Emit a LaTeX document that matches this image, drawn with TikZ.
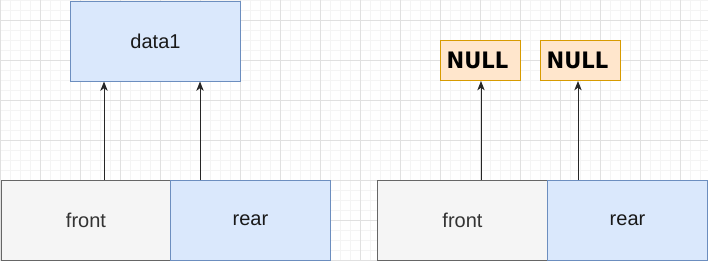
\documentclass[tikz,border=0pt]{standalone}
\usepackage{fontspec}
\setmainfont{Liberation Sans}
\newfontfamily\dvsansfam{DejaVu Sans}
\usetikzlibrary{arrows.meta}
\definecolor{gfill}{HTML}{F5F5F5}
\definecolor{gline}{HTML}{666666}
\definecolor{bfill}{HTML}{DAE8FC}
\definecolor{bline}{HTML}{6C8EBF}
\definecolor{ofill}{HTML}{FFE6CC}
\definecolor{oline}{HTML}{D79B00}
\definecolor{gtext}{HTML}{333333}
\definecolor{minorgrid}{HTML}{F4F4F4}
\definecolor{majorgrid}{HTML}{E0E0E0}
\tikzset{
  box/.style={draw, line width=0.75pt, inner sep=0pt, anchor=north west},
  graybox/.style={box, fill=gfill, draw=gline, text=gtext, font=\fontsize{15}{18}\selectfont},
  bluebox/.style={box, fill=bfill, draw=bline, text=black!90, font=\fontsize{15}{18}\selectfont},
  nullbox/.style={box, fill=ofill, draw=oline, text=black, font=\dvsansfam\bfseries\fontsize{17}{20}\selectfont},
  arr/.style={draw=black!85, line width=0.75pt, -{Stealth[length=7pt,width=5.5pt,inset=2pt]}},
}
\begin{document}
\begin{tikzpicture}[x=0.75pt,y=-0.75pt]
\useasboundingbox (0,0) rectangle (708,261);
\fill[white] (0,0) rectangle (708,261);
% minor grid
\foreach \gx in {0,10,...,700} \draw[minorgrid, line width=0.75pt] (\gx,0) -- (\gx,261);
\foreach \gy in {0,10,...,260} \draw[minorgrid, line width=0.75pt] (0,\gy) -- (708,\gy);
% major grid
\foreach \gx in {0,40,...,700} \draw[majorgrid, line width=0.75pt] (\gx,0) -- (\gx,261);
\foreach \gy in {20,60,...,260} \draw[majorgrid, line width=0.75pt] (0,\gy) -- (708,\gy);

% left structure
\node[bluebox, minimum width=127.5pt, minimum height=60pt] (data1) at (70,0.5) {data1};
\node[graybox, minimum width=127.5pt, minimum height=60pt] (front1) at (0.5,180) {front};
\node[bluebox, minimum width=120pt, minimum height=60pt] (rear1) at (170,180) {rear};

% right structure
\node[nullbox, minimum width=60pt, minimum height=30pt] (null1) at (440,40) {\hspace*{-4.5pt}\scalebox{0.93}[1]{NULL}};
\node[nullbox, minimum width=60pt, minimum height=30pt] (null2) at (540,40) {\hspace*{-4.5pt}\scalebox{0.93}[1]{NULL}};
\node[graybox, minimum width=127.5pt, minimum height=60pt] (front2) at (377,180) {front};
\node[bluebox, minimum width=120pt, minimum height=60pt] (rear2) at (547,180) {rear};

% arrow start points
\coordinate (a1) at (104,180);
\coordinate (a2) at (200,180);
\coordinate (a3) at (481,180);
\coordinate (a4) at (578,180);

\draw[arr] (a1) -- (a1 |- data1.south);
\draw[arr] (a2) -- (a2 |- data1.south);
\draw[arr] (a3) -- (a3 |- null1.south);
\draw[arr] (a4) -- (a4 |- null2.south);
\end{tikzpicture}
\end{document}
